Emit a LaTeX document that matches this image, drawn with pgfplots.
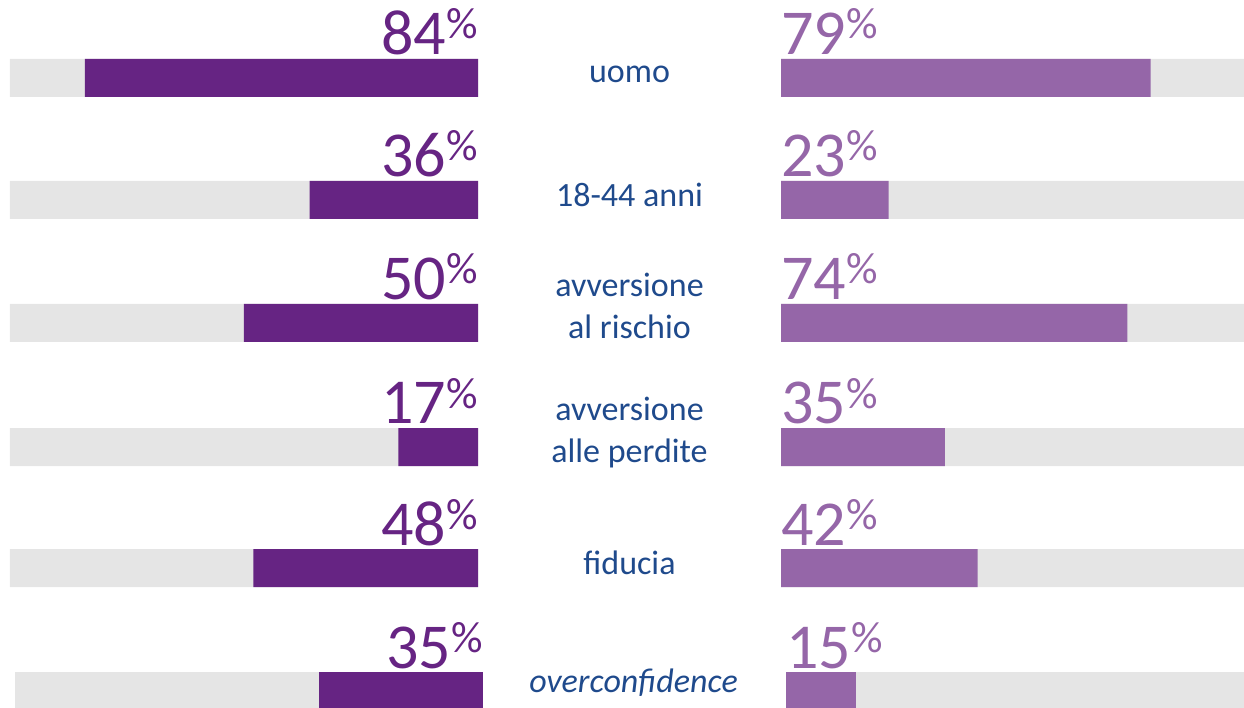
\documentclass[border=0pt]{standalone}
\usepackage{fontspec}
\setmainfont{Carlito}
\usepackage{pgfplots}
\pgfplotsset{compat=1.18}
\definecolor{leftc}{HTML}{662483}
\definecolor{rightc}{HTML}{9566A8}
\definecolor{greyc}{HTML}{E5E5E5}
\definecolor{labc}{HTML}{1F4A8C}
\pgfplotsset{barax/.style={scale only axis, width=468pt, height=708pt,
  xmin=0, xmax=100, ymin=0, ymax=708, y dir=reverse,
  axis lines=none, ticks=none, clip=false, xbar, bar width=38pt, bar shift=0pt,
  anchor=south west}}
\newcommand{\pct}[1]{\fontsize{64}{64}\selectfont #1\raisebox{16pt}{\fontsize{44}{44}\selectfont\%}}
\pgfplotstableread{
y v
78 84
200 36
323 50
447 17
568 48
}\lefttab
\pgfplotstableread{
y v
78 79
200 23
323 74
447 35
568 42
}\righttab
\pgfplotstableread{
y v
691 35
}\leftlast
\pgfplotstableread{
y v
691 15
}\rightlast
\pgfplotstableread{
y v
78 100
200 100
323 100
447 100
568 100
}\greytab
\pgfplotstableread{
y v
691 100
}\greylast
\begin{document}
\begin{tikzpicture}
\path[use as bounding box] (0,0) rectangle (1244pt,708pt);
% left, rows 1-5
\begin{axis}[barax, at={(10pt,0pt)}, x dir=reverse]
\addplot[fill=greyc, draw=none, bar shift=0pt] table[x=v,y=y]{\greytab};
\addplot[fill=leftc, draw=none, bar shift=0pt] table[x=v,y=y]{\lefttab};
\node[anchor=base east, inner sep=0, text=leftc] at (axis cs:0,55) {\pct{84}};
\node[anchor=base east, inner sep=0, text=leftc] at (axis cs:0,177) {\pct{36}};
\node[anchor=base east, inner sep=0, text=leftc] at (axis cs:0,300) {\pct{50}};
\node[anchor=base east, inner sep=0, text=leftc] at (axis cs:0,424) {\pct{17}};
\node[anchor=base east, inner sep=0, text=leftc] at (axis cs:0,545) {\pct{48}};
\end{axis}
% left, row 6
\begin{axis}[barax, at={(15pt,0pt)}, x dir=reverse]
\addplot[fill=greyc, draw=none, bar shift=0pt] table[x=v,y=y]{\greylast};
\addplot[fill=leftc, draw=none, bar shift=0pt] table[x=v,y=y]{\leftlast};
\node[anchor=base east, inner sep=0, text=leftc] at (axis cs:0,668) {\pct{35}};
\end{axis}
% right, rows 1-5
\begin{axis}[barax, at={(781pt,0pt)}]
\addplot[fill=greyc, draw=none, bar shift=0pt] table[x=v,y=y]{\greytab};
\addplot[fill=rightc, draw=none, bar shift=0pt] table[x=v,y=y]{\righttab};
\node[anchor=base west, inner sep=0, text=rightc] at (axis cs:0,55) {\pct{79}};
\node[anchor=base west, inner sep=0, text=rightc] at (axis cs:0,177) {\pct{23}};
\node[anchor=base west, inner sep=0, text=rightc] at (axis cs:0,300) {\pct{74}};
\node[anchor=base west, inner sep=0, text=rightc] at (axis cs:0,424) {\pct{35}};
\node[anchor=base west, inner sep=0, text=rightc] at (axis cs:0,545) {\pct{42}};
\end{axis}
% right, row 6
\begin{axis}[barax, at={(786pt,0pt)}]
\addplot[fill=greyc, draw=none, bar shift=0pt] table[x=v,y=y]{\greylast};
\addplot[fill=rightc, draw=none, bar shift=0pt] table[x=v,y=y]{\rightlast};
\node[anchor=base west, inner sep=0, text=rightc] at (axis cs:0,668) {\pct{15}};
\end{axis}
% category labels
\begin{scope}[every node/.style={anchor=base, inner sep=0, text=labc, align=center, font=\fontsize{34}{42}\selectfont}]
\node at (629.5pt,{(708-83)*1pt}) {uomo};
\node at (629.5pt,{(708-207)*1pt}) {18-44 anni};
\node at (629.5pt,{(708-339)*1pt}) {avversione\\al rischio};
\node at (629.5pt,{(708-463)*1pt}) {avversione\\alle perdite};
\node at (629.5pt,{(708-575)*1pt}) {fiducia};
\node at (633.5pt,{(708-693)*1pt}) {\itshape overconfidence};
\end{scope}
\end{tikzpicture}
\end{document}
